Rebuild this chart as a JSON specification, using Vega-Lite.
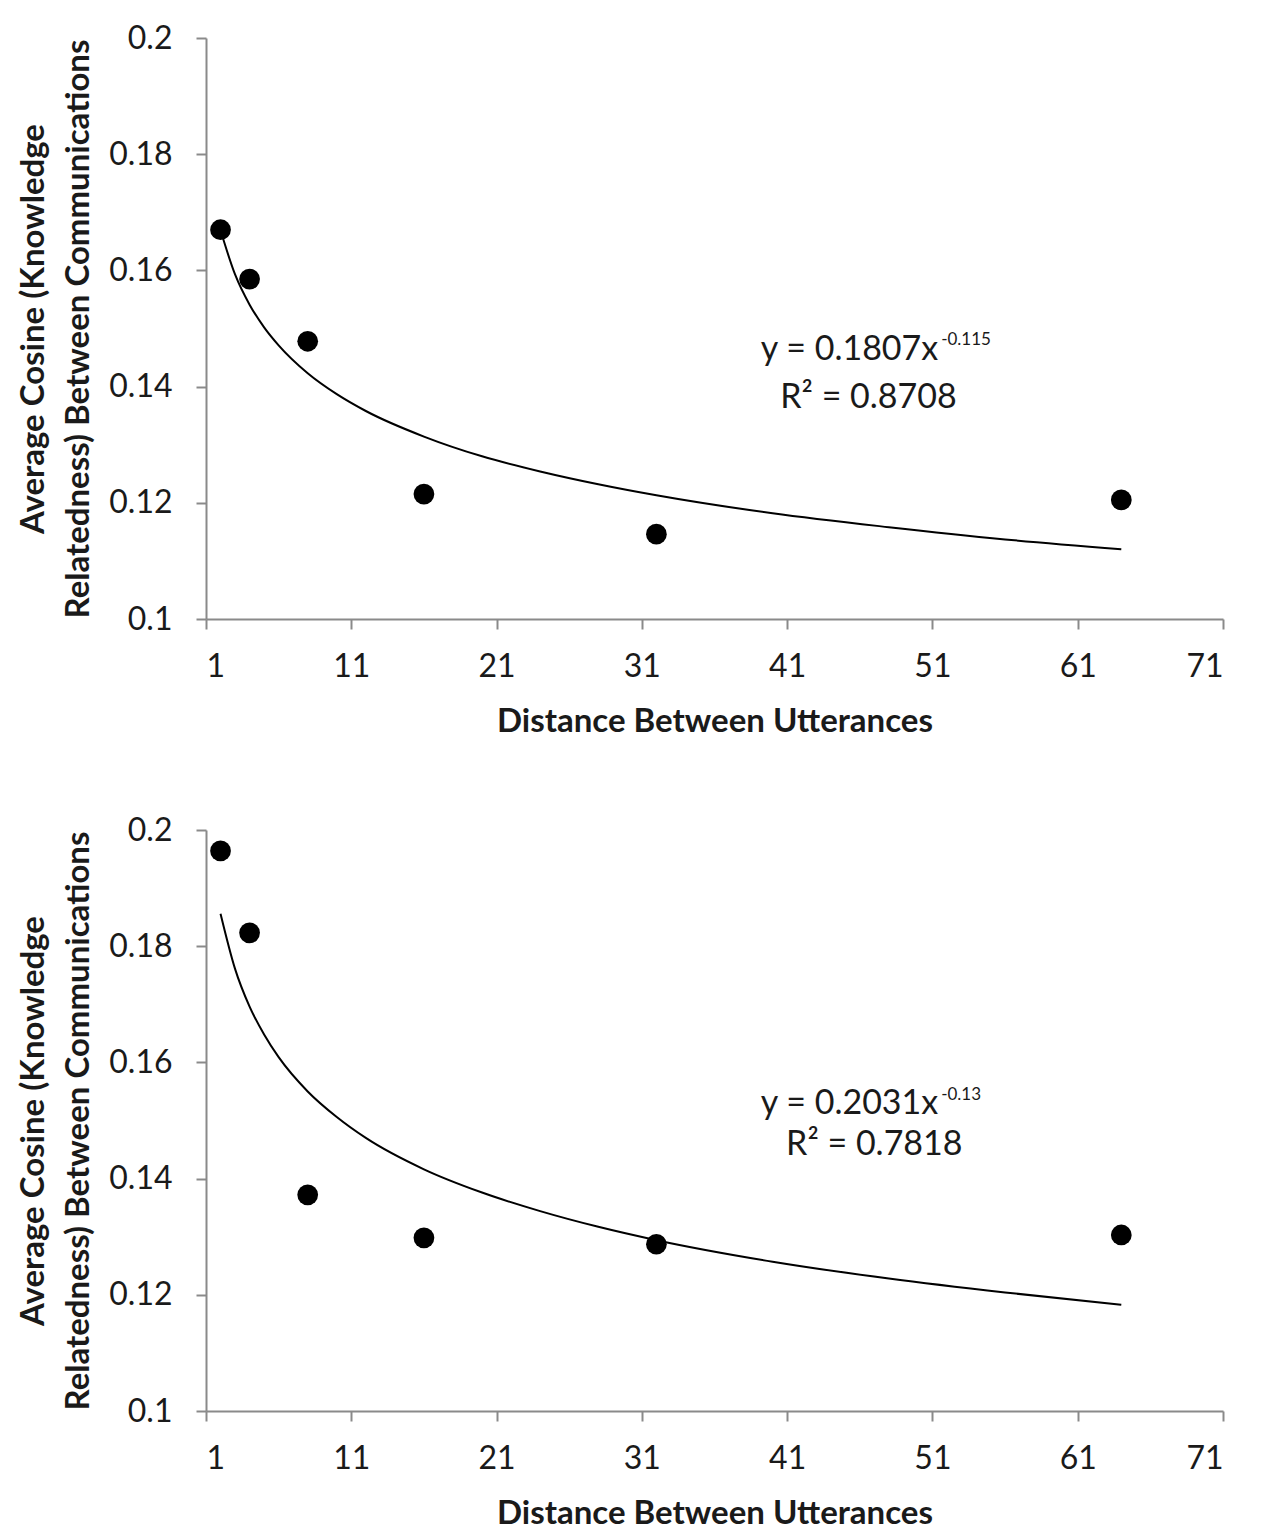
{
  "$schema": "https://vega.github.io/schema/vega-lite/v6.json",
  "background": "white",
  "padding": {"left": 17, "top": 22, "right": 20, "bottom": 5},
  "spacing": 76,
  "config": {
    "font": "Lato",
    "view": {"stroke": null},
    "axis": {
      "grid": false,
      "domainColor": "#8a8a8a",
      "domainWidth": 2,
      "tickColor": "#8a8a8a",
      "tickWidth": 2,
      "tickSize": 10,
      "labelColor": "#1a1a1a",
      "labelFont": "Lato",
      "labelFontSize": 32,
      "titleFont": "Lato",
      "titleFontSize": 33,
      "titleFontWeight": "bold",
      "titleColor": "#1a1a1a"
    },
    "axisX": {"labelPadding": 22, "titlePadding": 23},
    "axisY": {"labelPadding": 24, "titlePadding": 13, "titleLineHeight": 45}
  },
  "datasets": {
    "points": [
      {"panel": "top", "distance": 2, "cosine": 0.1670},
      {"panel": "top", "distance": 4, "cosine": 0.1585},
      {"panel": "top", "distance": 8, "cosine": 0.1478},
      {"panel": "top", "distance": 16, "cosine": 0.1215},
      {"panel": "top", "distance": 32, "cosine": 0.1146},
      {"panel": "top", "distance": 64, "cosine": 0.1205},
      {"panel": "bottom", "distance": 2, "cosine": 0.1964},
      {"panel": "bottom", "distance": 4, "cosine": 0.1823},
      {"panel": "bottom", "distance": 8, "cosine": 0.1372},
      {"panel": "bottom", "distance": 16, "cosine": 0.1298},
      {"panel": "bottom", "distance": 32, "cosine": 0.1287},
      {"panel": "bottom", "distance": 64, "cosine": 0.1303}
    ],
    "trend": [
      {"panel": "top", "distance": 2, "fit": 0.1669},
      {"panel": "top", "distance": 3, "fit": 0.1593},
      {"panel": "top", "distance": 4, "fit": 0.1541},
      {"panel": "top", "distance": 5, "fit": 0.1502},
      {"panel": "top", "distance": 6, "fit": 0.1471},
      {"panel": "top", "distance": 8, "fit": 0.1423},
      {"panel": "top", "distance": 10, "fit": 0.1387},
      {"panel": "top", "distance": 12, "fit": 0.1358},
      {"panel": "top", "distance": 16, "fit": 0.1314},
      {"panel": "top", "distance": 20, "fit": 0.1280},
      {"panel": "top", "distance": 24, "fit": 0.1254},
      {"panel": "top", "distance": 28, "fit": 0.1232},
      {"panel": "top", "distance": 32, "fit": 0.1213},
      {"panel": "top", "distance": 40, "fit": 0.1182},
      {"panel": "top", "distance": 48, "fit": 0.1158},
      {"panel": "top", "distance": 56, "fit": 0.1137},
      {"panel": "top", "distance": 64, "fit": 0.1120},
      {"panel": "bottom", "distance": 2, "fit": 0.1856},
      {"panel": "bottom", "distance": 3, "fit": 0.1761},
      {"panel": "bottom", "distance": 4, "fit": 0.1696},
      {"panel": "bottom", "distance": 5, "fit": 0.1648},
      {"panel": "bottom", "distance": 6, "fit": 0.1609},
      {"panel": "bottom", "distance": 8, "fit": 0.1550},
      {"panel": "bottom", "distance": 10, "fit": 0.1506},
      {"panel": "bottom", "distance": 12, "fit": 0.1470},
      {"panel": "bottom", "distance": 16, "fit": 0.1416},
      {"panel": "bottom", "distance": 20, "fit": 0.1376},
      {"panel": "bottom", "distance": 24, "fit": 0.1344},
      {"panel": "bottom", "distance": 28, "fit": 0.1317},
      {"panel": "bottom", "distance": 32, "fit": 0.1294},
      {"panel": "bottom", "distance": 40, "fit": 0.1257},
      {"panel": "bottom", "distance": 48, "fit": 0.1228},
      {"panel": "bottom", "distance": 56, "fit": 0.1204},
      {"panel": "bottom", "distance": 64, "fit": 0.1183}
    ],
    "notes": [
      {"panel": "top", "part": "main", "distance": 51.4, "cosine": 0.1463, "label": "y = 0.1807x"},
      {"panel": "top", "part": "sup", "distance": 51.6, "cosine": 0.1480, "label": "-0.115"},
      {"panel": "top", "part": "r2", "distance": 46.6, "cosine": 0.1381, "label": "R² = 0.8708"},
      {"panel": "bottom", "part": "main", "distance": 51.4, "cosine": 0.1528, "label": "y = 0.2031x"},
      {"panel": "bottom", "part": "sup", "distance": 51.6, "cosine": 0.1544, "label": "-0.13"},
      {"panel": "bottom", "part": "r2", "distance": 47.0, "cosine": 0.1458, "label": "R² = 0.7818"}
    ]
  },
  "vconcat": [
    {
      "width": 1017,
      "height": 581,
      "layer": [
        {
          "data": {"name": "trend"},
          "transform": [{"filter": "datum.panel === 'top'"}],
          "mark": {"type": "line", "color": "black", "strokeWidth": 2, "interpolate": "monotone"},
          "encoding": {
            "x": {"field": "distance", "type": "quantitative", "scale": {"domain": [1, 71], "nice": false, "zero": false}, "axis": {"values": [1, 11, 21, 31, 41, 51, 61, 71]}, "title": "Distance Between Utterances"},
            "y": {"field": "fit", "type": "quantitative", "scale": {"domain": [0.1, 0.2], "nice": false, "zero": false}, "axis": {"values": [0.1, 0.12, 0.14, 0.16, 0.18, 0.2], "labelExpr": "format(datum.value, '.2~f')"}, "title": ["Average Cosine (Knowledge", "Relatedness) Between Communications"]}
          }
        },
        {
          "data": {"name": "points"},
          "transform": [{"filter": "datum.panel === 'top'"}],
          "mark": {"type": "point", "filled": true, "color": "black", "opacity": 1, "size": 430},
          "encoding": {
            "x": {"field": "distance", "type": "quantitative"},
            "y": {"field": "cosine", "type": "quantitative"}
          }
        },
        {
          "data": {"name": "notes"},
          "transform": [{"filter": "datum.panel === 'top' && datum.part === 'main'"}],
          "mark": {"type": "text", "align": "right", "baseline": "middle", "fontSize": 34, "color": "#1a1a1a"},
          "encoding": {
            "x": {"field": "distance", "type": "quantitative"},
            "y": {"field": "cosine", "type": "quantitative"},
            "text": {"field": "label"}
          }
        },
        {
          "data": {"name": "notes"},
          "transform": [{"filter": "datum.panel === 'top' && datum.part === 'sup'"}],
          "mark": {"type": "text", "align": "left", "baseline": "middle", "fontSize": 17, "color": "#1a1a1a"},
          "encoding": {
            "x": {"field": "distance", "type": "quantitative"},
            "y": {"field": "cosine", "type": "quantitative"},
            "text": {"field": "label"}
          }
        },
        {
          "data": {"name": "notes"},
          "transform": [{"filter": "datum.panel === 'top' && datum.part === 'r2'"}],
          "mark": {"type": "text", "align": "center", "baseline": "middle", "fontSize": 34, "color": "#1a1a1a"},
          "encoding": {
            "x": {"field": "distance", "type": "quantitative"},
            "y": {"field": "cosine", "type": "quantitative"},
            "text": {"field": "label"}
          }
        }
      ]
    },
    {
      "width": 1017,
      "height": 581,
      "layer": [
        {
          "data": {"name": "trend"},
          "transform": [{"filter": "datum.panel === 'bottom'"}],
          "mark": {"type": "line", "color": "black", "strokeWidth": 2, "interpolate": "monotone"},
          "encoding": {
            "x": {"field": "distance", "type": "quantitative", "scale": {"domain": [1, 71], "nice": false, "zero": false}, "axis": {"values": [1, 11, 21, 31, 41, 51, 61, 71]}, "title": "Distance Between Utterances"},
            "y": {"field": "fit", "type": "quantitative", "scale": {"domain": [0.1, 0.2], "nice": false, "zero": false}, "axis": {"values": [0.1, 0.12, 0.14, 0.16, 0.18, 0.2], "labelExpr": "format(datum.value, '.2~f')"}, "title": ["Average Cosine (Knowledge", "Relatedness) Between Communications"]}
          }
        },
        {
          "data": {"name": "points"},
          "transform": [{"filter": "datum.panel === 'bottom'"}],
          "mark": {"type": "point", "filled": true, "color": "black", "opacity": 1, "size": 430},
          "encoding": {
            "x": {"field": "distance", "type": "quantitative"},
            "y": {"field": "cosine", "type": "quantitative"}
          }
        },
        {
          "data": {"name": "notes"},
          "transform": [{"filter": "datum.panel === 'bottom' && datum.part === 'main'"}],
          "mark": {"type": "text", "align": "right", "baseline": "middle", "fontSize": 34, "color": "#1a1a1a"},
          "encoding": {
            "x": {"field": "distance", "type": "quantitative"},
            "y": {"field": "cosine", "type": "quantitative"},
            "text": {"field": "label"}
          }
        },
        {
          "data": {"name": "notes"},
          "transform": [{"filter": "datum.panel === 'bottom' && datum.part === 'sup'"}],
          "mark": {"type": "text", "align": "left", "baseline": "middle", "fontSize": 17, "color": "#1a1a1a"},
          "encoding": {
            "x": {"field": "distance", "type": "quantitative"},
            "y": {"field": "cosine", "type": "quantitative"},
            "text": {"field": "label"}
          }
        },
        {
          "data": {"name": "notes"},
          "transform": [{"filter": "datum.panel === 'bottom' && datum.part === 'r2'"}],
          "mark": {"type": "text", "align": "center", "baseline": "middle", "fontSize": 34, "color": "#1a1a1a"},
          "encoding": {
            "x": {"field": "distance", "type": "quantitative"},
            "y": {"field": "cosine", "type": "quantitative"},
            "text": {"field": "label"}
          }
        }
      ]
    }
  ]
}
